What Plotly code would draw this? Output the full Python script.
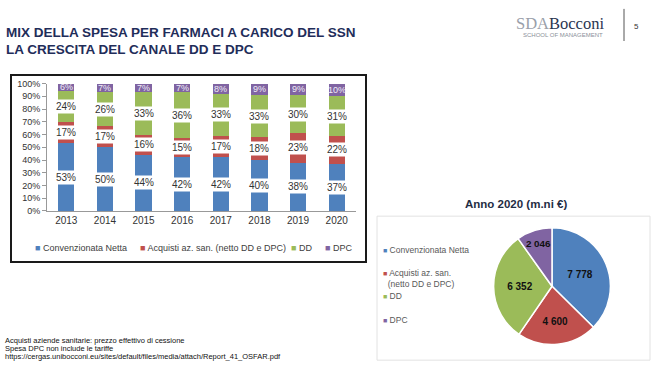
import plotly.graph_objects as go

years = [2013, 2014, 2015, 2016, 2017, 2018, 2019, 2020]
convenzionata = [53, 50, 44, 42, 42, 40, 38, 37]
acquisti = [17, 17, 16, 15, 17, 18, 23, 22]
dd = [24, 26, 33, 36, 33, 33, 30, 31]
dpc = [6, 7, 7, 7, 8, 9, 9, 10]
series_names = ["Convenzionata Netta", "Acquisti az. san. (netto DD e DPC)", "DD", "DPC"]
colors = ["#4F81BD", "#C0504D", "#9BBB59", "#8064A2"]

pie_labels = ["Convenzionata Netta", "Acquisti az. san.<br>(netto DD e DPC)", "DD", "DPC"]
pie_values = [7778, 4600, 6352, 2046]

W, H = 654, 371
def px(x): return x / W
def py(y): return 1 - y / H

fig = go.Figure()
series = [convenzionata, acquisti, dd, dpc]
for name, vals, col in zip(series_names, series, colors):
    fig.add_trace(go.Bar(x=years, y=vals, name=name, marker_color=col, width=0.42,
                         marker_line_width=0, showlegend=False))

annotations = []
for i, yr in enumerate(years):
    base = 0
    for k, vals in enumerate(series):
        v = vals[i]
        center = base + v / 2
        base += v
        if k < 3:
            annotations.append(dict(x=yr, y=center, xref="x", yref="y", text=f"{v}%",
                                    showarrow=False, bgcolor="white", borderpad=1,
                                    font=dict(size=10, color="#333333", family="Liberation Sans")))
        else:
            annotations.append(dict(x=yr, y=center, xref="x", yref="y", text=f"{v}%",
                                    showarrow=False,
                                    font=dict(size=9, color="#f0ecf7", family="Liberation Sans")))

fig.add_trace(go.Pie(labels=pie_labels, values=pie_values, sort=False, direction="clockwise",
                     rotation=0, marker=dict(colors=colors, line=dict(color="white", width=1.5)),
                     text=[f"{v:,}".replace(",", " ") for v in pie_values],
                     texttemplate="<b>%{text}</b>",
                     textposition="inside", insidetextorientation="horizontal",
                     textfont=dict(size=10, color="#111111", family="Liberation Sans"),
                     domain=dict(x=[px(492), px(612)], y=[py(349), py(229)]),
                     showlegend=False, hoverinfo="label+value"))

bar_leg_x = [33, 138, 289, 323]
for name, col, lx in zip(series_names, colors, bar_leg_x):
    annotations.append(dict(x=px(lx), y=py(250), xref="paper", yref="paper", xanchor="left",
                            yanchor="middle", showarrow=False,
                            text=f"<span style='color:{col}'>■</span> {name}",
                            font=dict(size=9, color="#404040", family="Liberation Sans")))
pie_leg_y = [252, 281.5, 299, 324]
for name, col, ly in zip(pie_labels, colors, pie_leg_y):
    txt = name.replace("<br>", "<br>  ")
    annotations.append(dict(x=px(381), y=py(ly), xref="paper", yref="paper", xanchor="left",
                            yanchor="middle", showarrow=False, align="left",
                            text=f"<span style='color:{col};font-size:7px'>■</span> {txt}",
                            font=dict(size=8.5, color="#595959", family="Liberation Sans")))

title_font = dict(family="Liberation Sans", size=13.5, color="#1F2D5A")
annotations += [
    dict(x=px(4), y=py(28), xref="paper", yref="paper", xanchor="left", yanchor="middle",
         text="<b>MIX DELLA SPESA PER FARMACI A CARICO DEL SSN</b>", showarrow=False, font=title_font),
    dict(x=px(4), y=py(46), xref="paper", yref="paper", xanchor="left", yanchor="middle",
         text="<b>LA CRESCITA DEL CANALE DD E DPC</b>", showarrow=False, font=title_font),
    dict(x=px(606), y=py(19), xref="paper", yref="paper", xanchor="right", yanchor="middle",
         text="<span style='color:#9aa0aa'>SDA</span>Bocconi", showarrow=False,
         font=dict(family="Liberation Serif", size=16.5, color="#2a3550")),
    dict(x=px(605), y=py(31), xref="paper", yref="paper", xanchor="right", yanchor="middle",
         text="SCHOOL OF MANAGEMENT", showarrow=False,
         font=dict(family="Liberation Sans", size=6, color="#8a8f99")),
    dict(x=px(636), y=py(22), xref="paper", yref="paper", xanchor="center", yanchor="middle",
         text="5", showarrow=False, font=dict(family="Liberation Sans", size=8, color="#333")),
    dict(x=px(516), y=py(204), xref="paper", yref="paper", xanchor="center", yanchor="middle",
         text="<b>Anno 2020 (m.ni €)</b>", showarrow=False,
         font=dict(family="Liberation Sans", size=11.5, color="#1F2D44")),
]
foot = ["Acquisti aziende sanitarie: prezzo effettivo di cessione",
        "Spesa DPC non include le tariffe",
        "https://cergas.unibocconi.eu/sites/default/files/media/attach/Report_41_OSFAR.pdf"]
for j, t in enumerate(foot):
    annotations.append(dict(x=px(3), y=py(345 + 8 * j), xref="paper", yref="paper",
                            xanchor="left", yanchor="middle", text=t, showarrow=False,
                            font=dict(family="Liberation Sans", size=7.5, color="#111")))

shapes = [
    dict(type="rect", xref="paper", yref="paper", x0=px(11), x1=px(366), y0=py(264), y1=py(72),
         line=dict(color="#1a1a1a", width=2)),
    dict(type="rect", xref="paper", yref="paper", x0=px(377), x1=px(650), y0=py(365), y1=py(217),
         line=dict(color="#e2e2e2", width=1)),
    dict(type="line", xref="paper", yref="paper", x0=px(624), x1=px(624), y0=py(4), y1=py(37),
         line=dict(color="#555", width=1)),
]

fig.update_layout(
    width=W, height=H, margin=dict(l=0, r=0, t=0, b=0),
    paper_bgcolor="white", plot_bgcolor="white",
    barmode="stack", showlegend=False,
    xaxis=dict(type="linear", domain=[px(47), px(356)], range=[years[0] - 0.5, years[-1] + 0.5],
               tickmode="array", tickvals=years, ticktext=[str(y) for y in years],
               showgrid=False, showline=True, zeroline=False,
               linecolor="#999", linewidth=1, ticks="",
               tickfont=dict(size=10, color="#333", family="Liberation Sans")),
    yaxis=dict(domain=[py(211.7), py(80.7)], range=[0, 100], dtick=10, ticksuffix="%",
               showgrid=False, showline=True, linecolor="#999", ticks="outside", ticklen=4,
               tickcolor="#999", tickfont=dict(size=9, color="#333", family="Liberation Sans"),
               zeroline=False),
    annotations=annotations, shapes=shapes,
)

fig.write_html("out.html", post_script="document.body.style.margin='0';",
               config={"displayModeBar": False})
